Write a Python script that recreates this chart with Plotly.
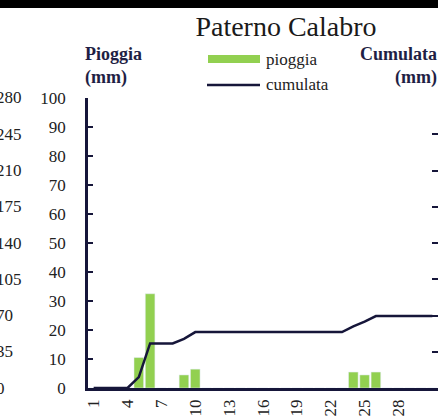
import plotly.graph_objs as go

# Data (daily rain in mm, month of 31 days)
days = list(range(1, 32))
pioggia = [0, 0, 0, 0, 10.5, 32.5, 0, 0, 4.5, 6.5,
           0, 0, 0, 0, 0, 0, 0, 0, 0, 0,
           0, 0, 0, 5.5, 4.5, 5.5, 0, 0, 0, 0, 0]
cumulata = [0, 0, 0, 0, 10.5, 43, 43, 43, 47.5, 54,
            54, 54, 54, 54, 54, 54, 54, 54, 54, 54,
            54, 54, 54, 59.5, 64, 69.5, 69.5, 69.5, 69.5, 69.5, 69.5]
x_ticks = [1, 4, 7, 10, 13, 16, 19, 22, 25, 28]
left_ticks = list(range(0, 101, 10))
right_ticks = list(range(0, 281, 35))

W, H = 438, 417
TOP, BOT = 98, 388  # pixel rows of plot area
NAVY = '#16163a'
FONT = "'Liberation Serif', 'Times New Roman', serif"


def px(x):
    return x / W


def py(y):
    return (H - y) / H


fig = go.Figure()

fig.add_trace(go.Bar(x=days, y=pioggia, name='pioggia', marker_color='#92D050',
                     showlegend=False, yaxis='y'))
fig.add_trace(go.Scatter(x=days, y=cumulata, name='cumulata', mode='lines',
                         line=dict(color=NAVY, width=2.5), showlegend=False, yaxis='y2'))

# manual legend + top border
shapes = [
    dict(type='rect', xref='paper', yref='paper', x0=px(208), x1=px(260), y0=py(63), y1=py(55),
         fillcolor='#92D050', line_width=0),
    dict(type='line', xref='paper', yref='paper', x0=px(207), x1=px(260), y0=py(85), y1=py(85),
         line=dict(color=NAVY, width=2.5)),
    dict(type='rect', xref='paper', yref='paper', x0=0, x1=1, y0=py(8), y1=1,
         fillcolor='black', line_width=0, layer='above'),
]

annotations = [
    dict(text='<b>Pioggia</b><br><b>(mm)</b>', xref='paper', yref='paper', x=px(83), y=py(66),
         xanchor='left', yanchor='middle', align='left', showarrow=False,
         font=dict(family=FONT, size=18, color='#1f1f45')),
    dict(text='<b>Cumulata</b><br><b>(mm)</b>', xref='paper', yref='paper', x=px(439), y=py(66),
         xanchor='right', yanchor='middle', align='right', showarrow=False,
         font=dict(family=FONT, size=18, color='#1f1f45')),
    dict(text='pioggia', xref='paper', yref='paper', x=px(264), y=py(59),
         xanchor='left', yanchor='middle', showarrow=False,
         font=dict(family=FONT, size=17, color='#222222')),
    dict(text='cumulata', xref='paper', yref='paper', x=px(264), y=py(85),
         xanchor='left', yanchor='middle', showarrow=False,
         font=dict(family=FONT, size=17, color='#222222')),
]

# cut-off right-axis labels of the neighbouring panel
for v in right_ticks:
    annotations.append(dict(text=str(v), xref='paper', yref='y3', x=px(-6), y=v,
                            xanchor='left', yanchor='middle', showarrow=False,
                            font=dict(family=FONT, size=17, color='#222222')))

fig.update_layout(
    width=W, height=H,
    margin=dict(l=0, r=0, t=0, b=0, pad=0),
    paper_bgcolor='white', plot_bgcolor='white',
    bargap=0.15,
    title=dict(text='Paterno Calabro', x=px(286), xanchor='center', xref='paper',
               y=1 - 26 / H, yanchor='middle',
               font=dict(family=FONT, size=28, color='#1a1a1a')),
    font=dict(family=FONT, size=17, color='#222222'),
    xaxis=dict(domain=[px(88), 1], range=[0.5, 31.5], tickvals=x_ticks, tickangle=-90,
               showline=True, linecolor=NAVY, linewidth=2.5, ticks='', showgrid=False,
               zeroline=False, automargin=False, ticklabelstandoff=2,
               ticklabeloverflow='allow',
               tickfont=dict(family=FONT, size=17, color='#222222')),
    yaxis=dict(domain=[py(BOT), py(TOP)], range=[0, 100], tickvals=left_ticks,
               showline=True, linecolor=NAVY, linewidth=2.5,
               ticks='inside', ticklen=5, tickwidth=2, tickcolor=NAVY, showgrid=False,
               zeroline=False, automargin=False, ticklabelstandoff=16,
               tickfont=dict(family=FONT, size=17, color='#222222')),
    yaxis2=dict(range=[0, 280], tickvals=right_ticks, overlaying='y', side='right', anchor='x',
                showline=False, ticks='inside', ticklen=6, tickwidth=2, tickcolor=NAVY,
                showticklabels=False, showgrid=False, zeroline=False, automargin=False),
    yaxis3=dict(range=[0, 280], overlaying='y', visible=False, anchor='x'),
    shapes=shapes,
    annotations=annotations,
)

fig.write_html("out.html", config={'displayModeBar': False},
               post_script="document.body.style.margin='0';")
